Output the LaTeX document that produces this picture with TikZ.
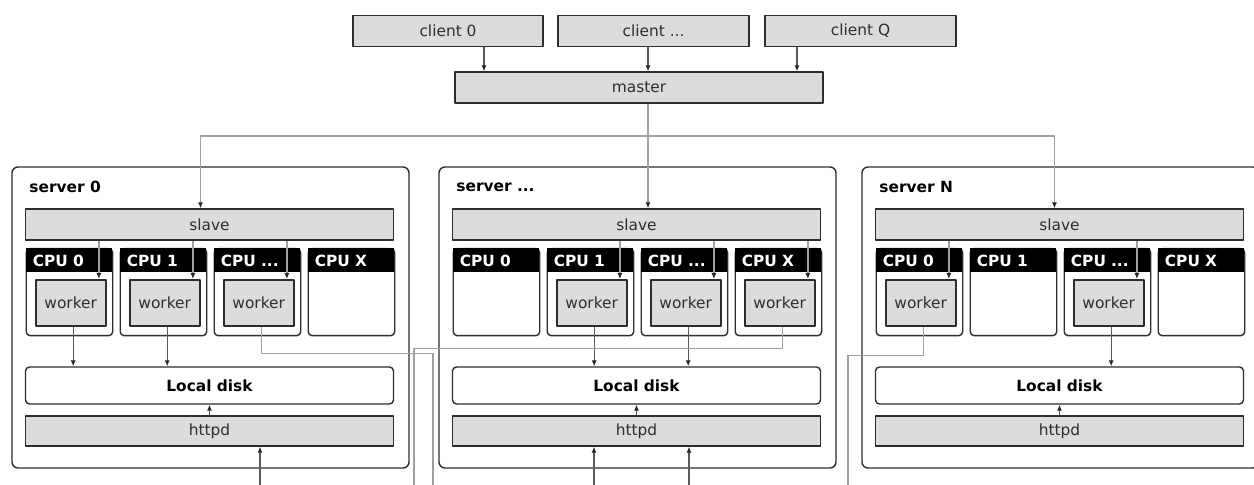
\documentclass[tikz,border=0pt]{standalone}
\usepackage{fontspec}
\setmainfont{DejaVu Sans}
\usetikzlibrary{arrows.meta}
\definecolor{boxgray}{RGB}{220,220,220}
\definecolor{edge}{RGB}{45,45,45}
\definecolor{wire}{RGB}{160,160,160}
\definecolor{wiredark}{RGB}{90,90,90}
\def\u{0.5pt}
\def\threedots{...}
\tikzset{
  bar/.style={draw=edge, fill=boxgray, text=edge, line width=0.7pt, minimum height=31*\u, inner sep=0pt},
  server/.style={draw=edge, line width=0.7pt, rounded corners=3pt, inner sep=0pt},
  disk/.style={draw=edge, line width=0.7pt, rounded corners=2pt, minimum width=368*\u, minimum height=37*\u, inner sep=0pt, font=\fontsize{7.7}{9}\selectfont\bfseries},
  cpu/.style={draw=edge, line width=0.7pt, rounded corners=2pt, minimum width=86.5*\u, minimum height=87*\u, inner sep=0pt, anchor=north west},
  cpuhead/.style={fill=black, text=white, anchor=north west, minimum height=24*\u, text width=72.5*\u, inner xsep=7*\u, inner ysep=0pt, align=left, font=\fontsize{7.7}{9}\selectfont\bfseries},
  worker/.style={draw=edge, fill=boxgray, text=edge, line width=1.2pt, minimum width=70*\u, minimum height=46*\u, inner sep=0pt, anchor=north west},
  wire/.style={draw=wire, line width=0.7pt},
  wiredark/.style={draw=wiredark, line width=0.6pt}
}
\begin{document}
\begin{tikzpicture}[x=0.5pt, y=-0.5pt, font=\fontsize{7.7}{9}\selectfont, line join=round, >={Latex[length=3pt,width=2.6pt,color=black!85]}]
  \useasboundingbox (0,0) rectangle (1254,485);
  \clip (0,0) rectangle (1254,485);
  % clients and master
  \node[bar, minimum width=190*\u] (c0) at (448,31) {client 0};
  \node[bar, minimum width=191*\u] (c1) at (653.5,31) {client ...};
  \node[bar, minimum width=191*\u] (cq) at (860.5,31) {client Q};
  \node[bar, minimum width=368*\u] (m) at (639,87.5) {master};
  \draw[wiredark,->] ([xshift=36*\u]c0.south) -- ([xshift=36*\u]c0.south |- m.north);
  \draw[wiredark,->] ([xshift=-5.5*\u]c1.south) -- ([xshift=-5.5*\u]c1.south |- m.north);
  \draw[wiredark,->] ([xshift=-63.5*\u]cq.south) -- ([xshift=-63.5*\u]cq.south |- m.north);
  % servers
  \foreach \s/\L/\name in {0/12/server 0, 1/439/server \threedots, 2/862/server N}{
    \node[server, minimum width=397*\u, minimum height=301*\u] (s\s) at ({\L+198.5},317.5) {};
    \node[anchor=west, inner sep=0pt, font=\fontsize{7.7}{9}\selectfont\bfseries] (s\s-lab) at ({\L+17},187) {\name};
    \node[bar, minimum width=368*\u] (s\s-slave) at ({\L+197.5},224.5) {slave};
    \foreach \c/\lab in {0/CPU 0, 1/CPU 1, 2/CPU \threedots, 3/CPU X}{
      \node[cpu] (cpu\s\c) at ({\L+13.5+\c*94},248) {};
      \node[cpuhead] (hd\s\c) at (cpu\s\c.north west) {\lab};
    }
    \node[disk] (s\s-disk) at ({\L+197.5},385.5) {Local disk};
    \node[bar, minimum width=368*\u, minimum height=30*\u] (s\s-http) at ({\L+197.5},431) {httpd};
    \draw[wiredark,->] (s\s-http.north) -- (s\s-disk.south);
  }
  % workers
  \foreach \s/\c in {0/0, 0/1, 0/2, 1/1, 1/2, 1/3, 2/0, 2/2}{
    \node[worker] (w\s\c) at ([xshift=9*\u, yshift=-31*\u]cpu\s\c.north west) {worker};
    \draw[wire,->] ([xshift=-8*\u]w\s\c.north east |- s\s-slave.south) -- ([xshift=-8*\u]w\s\c.north east);
  }
  \foreach \s/\c in {0/0, 0/1, 1/1, 1/2, 2/2}{
    \draw[wiredark,->] ([xshift=2.5*\u]w\s\c.south) -- ([xshift=2.5*\u]w\s\c.south |- s\s-disk.north);
  }
  % master to slaves
  \coordinate (bus) at (0,136);
  \draw[wire,->] ([xshift=9*\u]m.south) -- ([xshift=9*\u]m.south |- s1-slave.north);
  \draw[wire,->] ([xshift=9*\u]m.south |- bus) -| ([xshift=-9*\u]s0-slave.north);
  \draw[wire,->] ([xshift=9*\u]m.south |- bus) -| ([xshift=-5*\u]s2-slave.north);
  % links leaving the picture
  \coordinate (o0) at (433,485);
  \coordinate (o1) at (414,485);
  \coordinate (o2) at (848,485);
  \draw[wire] ([xshift=2.5*\u]w02.south) -- ++(0,26) -| (o0);
  \draw[wire] ([xshift=2.5*\u]w13.south) -- ++(0,21) -| (o1);
  \draw[wire] ([xshift=2.5*\u]w20.south) -- ++(0,28) -| (o2);
  \coordinate (i0) at (260,485);
  \coordinate (i1) at (594,485);
  \coordinate (i2) at (689,485);
  \draw[wiredark,->] (i0) -- (i0 |- s0-http.south);
  \draw[wiredark,->] (i1) -- (i1 |- s1-http.south);
  \draw[wiredark,->] (i2) -- (i2 |- s1-http.south);
\end{tikzpicture}
\end{document}
